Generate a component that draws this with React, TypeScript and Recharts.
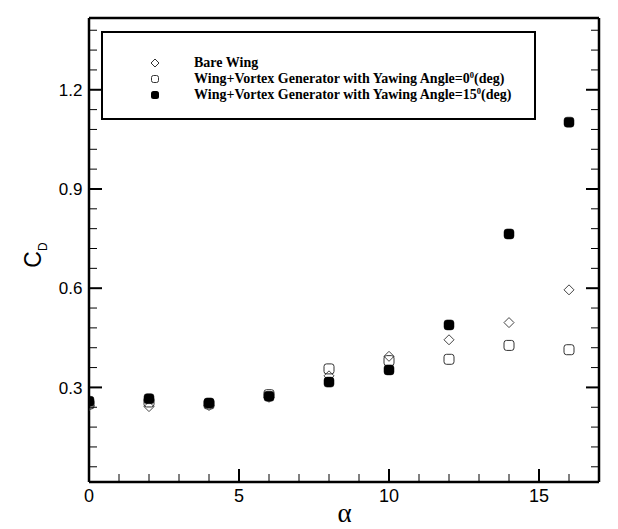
import React from 'react';
import { ScatterChart, Scatter, XAxis, YAxis, Legend } from 'recharts';

// ---- data ----
const alphaValues = [0, 2, 4, 6, 8, 10, 12, 14, 16];
const bareWing = [0.245, 0.242, 0.245, 0.27, 0.335, 0.394, 0.444, 0.496, 0.595];
const vgYaw0 = [0.25, 0.256, 0.25, 0.278, 0.356, 0.381, 0.385, 0.427, 0.414];
const vgYaw15 = [0.258, 0.266, 0.253, 0.273, 0.316, 0.353, 0.489, 0.764, 1.102];

const xTicks = [0, 1, 2, 3, 4, 5, 6, 7, 8, 9, 10, 11, 12, 13, 14, 15, 16];
const xMajorTicks = [0, 5, 10, 15];
const yTicks = [0.06, 0.12, 0.18, 0.24, 0.3, 0.36, 0.42, 0.48, 0.54, 0.6, 0.66, 0.72, 0.78, 0.84, 0.9, 0.96, 1.02, 1.08, 1.14, 1.2, 1.26, 1.32, 1.38];
const yMajorTicks = [0.3, 0.6, 0.9, 1.2];

const xDomain = [0, 17];
const yDomain = [0.014, 1.417];

const legendLabels = [
  { main: 'Bare Wing', sup: '', tail: '' },
  { main: 'Wing+Vortex Generator with Yawing Angle=0', sup: '0', tail: '(deg)' },
  { main: 'Wing+Vortex Generator with Yawing Angle=15', sup: '0', tail: '(deg)' },
];

const toPoints = (ys: number[]) => alphaValues.map((a, i) => ({ alpha: a, cd: ys[i] }));
const bareData = toPoints(bareWing);
const yaw0Data = toPoints(vgYaw0);
const yaw15Data = toPoints(vgYaw15);

// ---- styles ----
const SANS = '"Liberation Sans", Arial, sans-serif';
const SERIF = '"Liberation Serif", "Times New Roman", serif';
const MAJOR = 13;
const MINOR = 8;

const isMajorY = (v: number) => yMajorTicks.some((m) => Math.abs(m - v) < 1e-6);
const isMajorX = (v: number) => xMajorTicks.includes(v);

const BottomTick = (props: any) => {
  const { x, y, payload } = props;
  const v = payload.value;
  const major = isMajorX(v);
  return (
    <g>
      <line x1={x} x2={x} y1={y} y2={y - (major ? MAJOR : MINOR)} stroke="#000" strokeWidth={major ? 2 : 1} />
      {major && (
        <text x={x} y={y + 20} textAnchor="middle" fontSize={18} fontFamily={SANS} fill="#000">
          {v}
        </text>
      )}
    </g>
  );
};

const TopTick = (props: any) => {
  const { x, y, payload } = props;
  const major = isMajorX(payload.value);
  return <line x1={x} x2={x} y1={y} y2={y + (major ? MAJOR : MINOR)} stroke="#000" strokeWidth={major ? 2 : 1} />;
};

const LeftTick = (props: any) => {
  const { x, y, payload } = props;
  const v = payload.value;
  const major = isMajorY(v);
  return (
    <g>
      <line x1={x} x2={x + (major ? MAJOR : MINOR)} y1={y} y2={y} stroke="#000" strokeWidth={major ? 2 : 1} />
      {major && (
        <text x={x - 6.5} y={y} dy="0.36em" textAnchor="end" fontSize={17} fontFamily={SANS} fill="#000">
          {String(v)}
        </text>
      )}
    </g>
  );
};

const RightTick = (props: any) => {
  const { x, y, payload } = props;
  const major = isMajorY(payload.value);
  return <line x1={x} x2={x - (major ? MAJOR : MINOR)} y1={y} y2={y} stroke="#000" strokeWidth={major ? 2 : 1} />;
};

const DiamondShape = (props: any) => {
  const { cx, cy } = props;
  if (cx == null || cy == null) return <g />;
  const r = 5;
  return (
    <polygon
      points={`${cx},${cy - r} ${cx + r},${cy} ${cx},${cy + r} ${cx - r},${cy}`}
      fill="none"
      stroke="#444"
      strokeWidth={1}
    />
  );
};

const OpenSquareShape = (props: any) => {
  const { cx, cy } = props;
  if (cx == null || cy == null) return <g />;
  return <rect x={cx - 5} y={cy - 5} width={10} height={10} rx={2.5} fill="none" stroke="#333" strokeWidth={1} />;
};

const FilledSquareShape = (props: any) => {
  const { cx, cy } = props;
  if (cx == null || cy == null) return <g />;
  return <rect x={cx - 5} y={cy - 5} width={10} height={10} rx={3} fill="#000" stroke="#000" strokeWidth={0.5} />;
};

const LegendMarker = ({ kind }: { kind: number }) => (
  <svg width={12} height={12} style={{ position: 'absolute', left: 46, top: -6 }}>
    {kind === 0 && <polygon points="6,2 10,6 6,10 2,6" fill="none" stroke="#333" strokeWidth={1} />}
    {kind === 1 && <rect x={2.5} y={2.5} width={7} height={7} rx={2} fill="none" stroke="#333" strokeWidth={1} />}
    {kind === 2 && <rect x={2} y={2} width={8} height={8} rx={2.5} fill="#000" />}
  </svg>
);

const LegendBox = () => (
  <div
    style={{
      position: 'relative',
      width: 435,
      height: 89,
      boxSizing: 'border-box',
      border: '2.5px solid #000',
      background: '#fff',
    }}
  >
    {legendLabels.map((item, i) => {
      const rowY = 30 + 16 * i;
      return (
        <div key={i} style={{ position: 'absolute', left: 0, top: rowY, width: '100%' }}>
          <LegendMarker kind={i} />
          <div
            style={{
              position: 'absolute',
              left: 91,
              top: -8,
              height: 16,
              lineHeight: '16px',
              whiteSpace: 'nowrap',
              fontFamily: SERIF,
              fontWeight: 'bold',
              fontSize: 14,
              color: '#000',
            }}
          >
            {item.main}
            {item.sup && <span style={{ fontSize: 8.5, position: 'relative', top: -5 }}>{item.sup}</span>}
            {item.tail}
          </div>
        </div>
      );
    })}
  </div>
);

const CDLabel = () => (
  <g>
    <text
      transform="rotate(-90, 33, 247)"
      x={33}
      y={247}
      textAnchor="middle"
      fontFamily={SANS}
      fontSize={23}
      fill="#000"
    >
      C
      <tspan fontSize={12} dy={6}>
        D
      </tspan>
    </text>
  </g>
);

const AlphaLabel = () => (
  <text x={336.5} y={514} textAnchor="middle" fontFamily={SERIF} fontSize={27} fill="#000">
    α
  </text>
);

export default function App() {
  return (
    <ScatterChart width={610} height={521} margin={{ top: 9, right: 18, bottom: 0, left: 0 }}>
      <XAxis
        type="number"
        dataKey="alpha"
        domain={xDomain}
        allowDataOverflow
        ticks={xTicks}
        interval={0}
        tickSize={0}
        tickMargin={0}
        tickLine={false}
        tick={BottomTick}
        axisLine={{ stroke: '#000', strokeWidth: 2.5 }}
        height={47}
        label={{ content: () => <AlphaLabel /> }}
      />
      <XAxis
        xAxisId="top"
        orientation="top"
        type="number"
        domain={xDomain}
        allowDataOverflow
        ticks={xTicks}
        interval={0}
        tickSize={0}
        tickMargin={0}
        tickLine={false}
        tick={TopTick}
        axisLine={{ stroke: '#000', strokeWidth: 2.5 }}
        height={1}
      />
      <YAxis
        type="number"
        dataKey="cd"
        domain={yDomain}
        allowDataOverflow
        ticks={yTicks}
        interval={0}
        tickSize={0}
        tickMargin={0}
        tickLine={false}
        tick={LeftTick}
        axisLine={{ stroke: '#000', strokeWidth: 2.5 }}
        width={81}
        label={{ content: () => <CDLabel /> }}
      />
      <YAxis
        yAxisId="right"
        orientation="right"
        type="number"
        domain={yDomain}
        allowDataOverflow
        ticks={yTicks}
        interval={0}
        tickSize={0}
        tickMargin={0}
        tickLine={false}
        tick={RightTick}
        axisLine={{ stroke: '#000', strokeWidth: 2.5 }}
        width={1}
      />
      <Legend
        layout="vertical"
        align="center"
        verticalAlign="middle"
        wrapperStyle={{ top: 23, left: 93, width: 435, height: 89 }}
        content={() => <LegendBox />}
      />
      <Scatter name="Bare Wing" data={bareData} shape={DiamondShape} isAnimationActive={false} />
      <Scatter name="Yaw 0" data={yaw0Data} shape={OpenSquareShape} isAnimationActive={false} />
      <Scatter name="Yaw 15" data={yaw15Data} shape={FilledSquareShape} isAnimationActive={false} />
    </ScatterChart>
  );
}
